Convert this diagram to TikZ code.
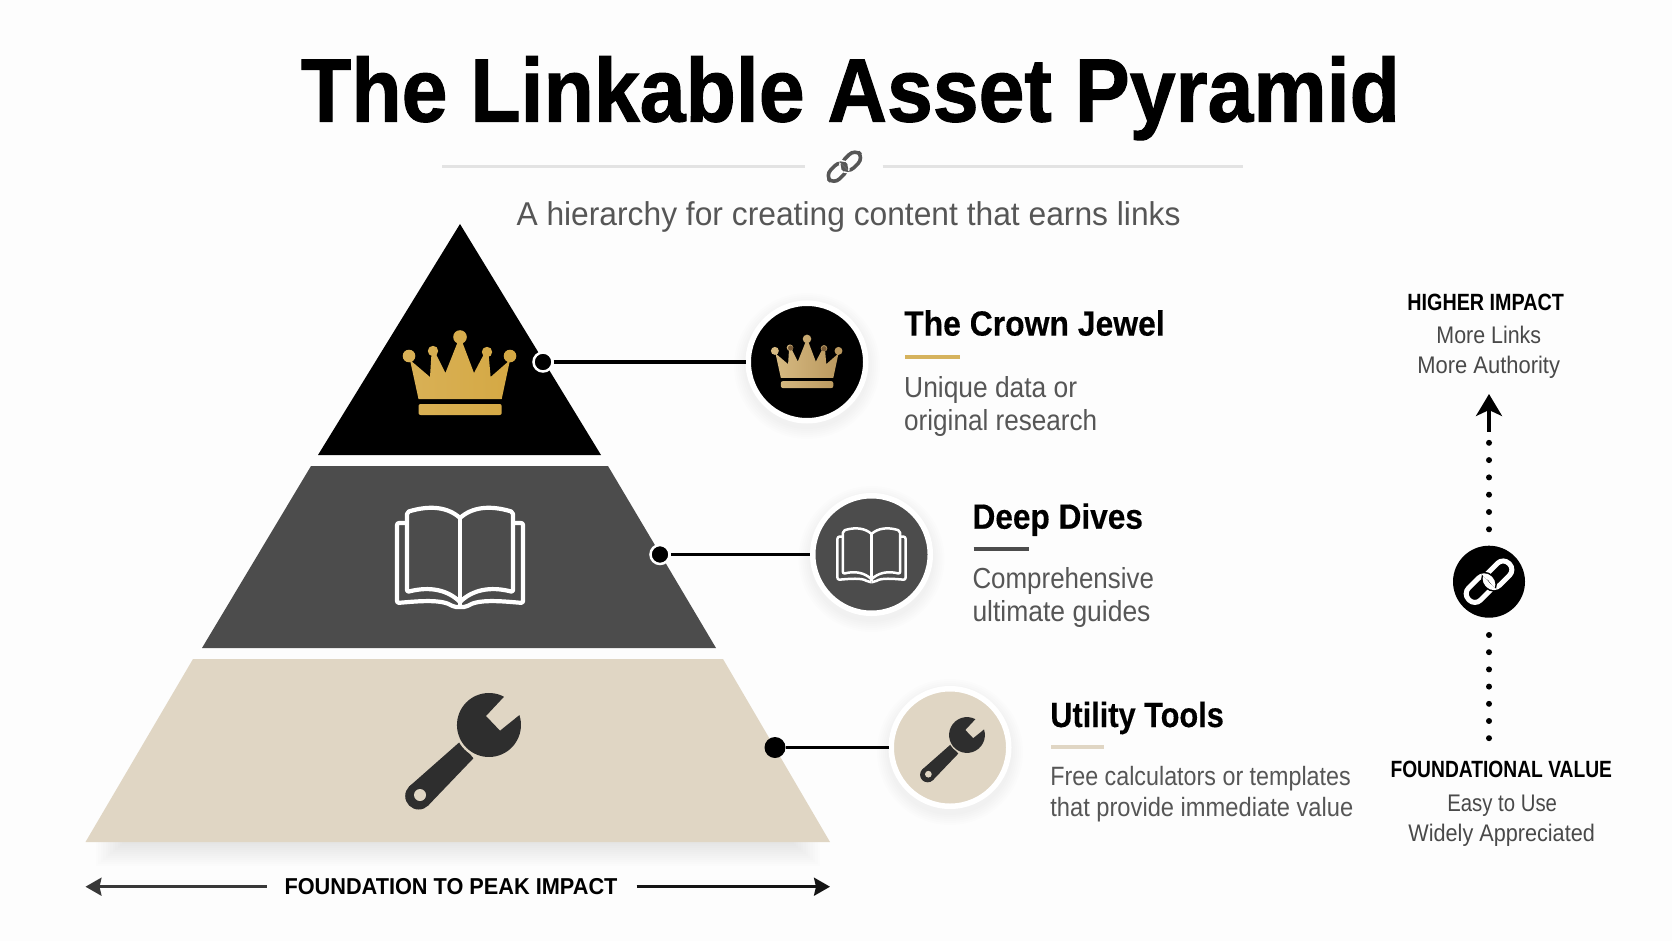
\documentclass[tikz,border=0pt]{standalone}
\usepackage{fontspec}
\usepackage{graphicx}
\usetikzlibrary{arrows.meta,shapes.geometric}
\setmainfont{Liberation Sans}
\newfontfamily\titlefont[FakeBold=1.2]{Liberation Sans Bold}
\newfontfamily\headfont[FakeBold=0.35]{Liberation Sans Bold}
\newcommand\fitw[2]{\resizebox{#1pt}{\height}{#2}}
\definecolor{bgc}{HTML}{FDFDFD}
\definecolor{tierA}{HTML}{000000}
\definecolor{tierB}{HTML}{4C4C4C}
\definecolor{tierC}{HTML}{E0D6C4}
\definecolor{ink}{HTML}{2E2E2E}
\definecolor{bodyc}{HTML}{565656}
\definecolor{goldbar}{HTML}{D6B35E}
\definecolor{goldL}{HTML}{D9B157}
\definecolor{goldM}{HTML}{C99A35}
\definecolor{goldR}{HTML}{D4A843}
\definecolor{paleL}{HTML}{D8BC84}
\definecolor{paleM}{HTML}{C9A869}
\definecolor{paleR}{HTML}{B8965C}
\definecolor{goldDim}{HTML}{7A5C38}
\tikzset{
  txt/.style={inner sep=0pt,outer sep=0pt,anchor=base west},
  hd/.style={txt,text=black,font=\headfont\fontsize{35}{35}\selectfont},
  bd/.style={txt,text=bodyc,font=\fontsize{29}{29}\selectfont},
  bdsm/.style={txt,text=bodyc,font=\fontsize{26.5}{27}\selectfont},
  side/.style={txt,text=bodyc!85!black,font=\fontsize{24}{24}\selectfont},
  sidehd/.style={txt,text=black,font=\bfseries\fontsize{23.5}{24}\selectfont},
  dotc/.style={circle,fill=black,draw=white,line width=2.5pt,minimum size=19pt,inner sep=0pt},
  dotplain/.style={circle,fill=black,minimum size=21pt,inner sep=0pt},
  badge/.style={circle,fill=#1,draw=white,line width=5.5pt,minimum size=117.5pt,inner sep=0pt},
  lead/.style={draw=black,line width=3.2pt},
  bar/.style={line width=4pt},
  pics/crown/.style n args={3}{code={
    \shade[left color=#1,middle color=#2,right color=#3]
      (-41.5,19) -- (-50,-20) -- (-30,-3) -- (-28.5,-27) -- (-24.5,-27) -- (-14.6,-7) -- (-1.5,-40) -- (1.5,-40)
      -- (14,-7) -- (24.5,-27) -- (28.5,-27) -- (30.6,-3) -- (50,-20) -- (41.7,19) -- cycle
      (-51,-24) circle[radius=6.3] (-27,-29) circle[radius=5.2] (0,-43) circle[radius=6.8]
      (27,-28) circle[radius=5.2] (50,-24) circle[radius=6.3]
      [rounded corners=2] (-41.5,24) rectangle (41.7,35);
  }},
  pics/book/.style={code={
    \foreach \sx in {1,-1}{
      \begin{scope}[xscale=\sx]
        \draw[white,line width=#1,rounded corners=2pt,line join=round]
          (0,-39) .. controls (-12,-50) and (-30,-52) .. (-53,-45) -- (-53,35)
          .. controls (-30,29) and (-12,33) .. (0,45);
        \draw[white,line width=#1,rounded corners=2pt,line join=round]
          (-53,-34) -- (-63,-34) -- (-63,46) .. controls (-40,44) and (-18,42) .. (-6,50) -- (0,50);
      \end{scope}}
    \draw[white,line width=#1] (0,-39) -- (0,48);
  }},
  pics/wrench/.style={code={
    \fill[ink] (-29,16.7) -- (-15.6,33.3) -- (-60.8,80.5) -- (-79.8,61.5) -- cycle;
    \fill[ink] (-70.3,71) circle[radius=13.5];
    \fill[#1] (-69,70) circle[radius=6];
    \fill[#1] (0,0) circle[radius=34.5];
    \fill[ink] (30.4,-9.9) arc[start angle=-18,end angle=298,radius=32] -- (-3,-9) -- (11,5.7) -- cycle;
  }},
  pics/chain/.style n args={3}{code={
    \begin{scope}[rotate=45]
      \draw[#1,line width=#3,rounded corners=8pt] (-27,-10) rectangle (3,7);
      \draw[#2,line width=#3+3pt,rounded corners=8pt] (-3,-7) rectangle (27,10);
      \draw[#1,line width=#3,rounded corners=8pt] (-3,-7) rectangle (27,10);
      \begin{scope}
        \clip (0,-15) rectangle (10,12);
        \draw[#2,line width=#3+3pt,rounded corners=8pt] (-27,-10) rectangle (3,7);
        \draw[#1,line width=#3,rounded corners=8pt] (-27,-10) rectangle (3,7);
      \end{scope}
    \end{scope}
  }},
}
\begin{document}
\begin{tikzpicture}[x=1pt,y=-1pt]
\useasboundingbox (0,0) rectangle (1672,941);
\fill[bgc] (0,0) rectangle (1672,941);

% title block
\node[txt,text=black,font=\titlefont\fontsize{90}{90}\selectfont] (title) at (301,121.5) {\fitw{1099}{The Linkable Asset Pyramid}};
\coordinate (ruleLa) at (442,166.7); \coordinate (ruleLb) at (805,166.7);
\coordinate (ruleRa) at (882.6,166.7); \coordinate (ruleRb) at (1243.4,166.7);
\draw[black!11,line width=2.5pt] (ruleLa) -- (ruleLb);
\draw[black!11,line width=2.5pt] (ruleRa) -- (ruleRb);
\pic[scale=.74] at (844.4,166.7) {chain={bodyc}{bgc}{3.6pt}};
\node[txt,text=bodyc,font=\fontsize{33}{33}\selectfont] (subtitle) at (516.5,226) {\fitw{664}{A hierarchy for creating content that earns links}};

% soft shadow of the pyramid base
\foreach \d in {2,4,...,24}{
  \fill[black,opacity=.009] (96+24*1.2-\d*1.2,842) rectangle (820-24*1.2+\d*1.2,842+\d);
}
% pyramid tiers
\fill[tierA] (460,224) -- (601,455) -- (318,455) -- cycle;
\fill[tierB] (311,466) -- (608,466) -- (716,648) -- (202,648) -- cycle;
\fill[tierC] (193,659) -- (723,659) -- (830,842) -- (85.5,842) -- cycle;

% tier icons
\pic at (460,380) {crown={goldL}{goldM}{goldR}};
\pic at (460,557) {book=4.2pt};
\pic at (489,725) {wrench=tierC};

% soft shadows of the badges
\foreach \cx/\cy in {807/366,871.5/559,950/752}{
  \foreach \r in {63,65,...,73}{
    \fill[black,opacity=.008] (\cx,\cy) circle[radius=\r];
  }
}

% badges and leaders
\node[badge=tierA] (badgeA) at (807,362) {};
\node[badge=tierB] (badgeB) at (871.5,554.5) {};
\node[badge=tierC] (badgeC) at (950,747.5) {};
\node[dotc] (dotA) at (543,362) {};
\node[dotc] (dotB) at (660,554.5) {};
\node[dotplain] (dotC) at (775,747.5) {};
\draw[lead] (dotA) -- (badgeA);
\draw[lead] (dotB) -- (badgeB);
\draw[lead] (dotC) -- (badgeC);

\pic[scale=.63] at (807,366) {crown={paleL}{paleM}{paleR}};
\fill[goldDim] (790.6,348) circle[radius=2.6];
\fill[goldDim] (824,348.7) circle[radius=2.6];
\pic[scale=.54] at (871.5,555) {book=2.5pt};
\pic[scale=.56] at (967,735) {wrench=tierC};

% right-hand captions
\node[hd] (capA) at (904.2,335.6) {\fitw{260.5}{The Crown Jewel}};
\coordinate (barAa) at (905,357); \coordinate (barAb) at (959.6,357);
\draw[bar,goldbar] (barAa) -- (barAb);
\node[bd] (capA1) at (904.2,397) {\fitw{173}{Unique data or}};
\node[bd] (capA2) at (904.2,430) {\fitw{193}{original research}};

\node[hd] (capB) at (972.5,528.7) {\fitw{170.5}{Deep Dives}};
\coordinate (barBa) at (973.5,549); \coordinate (barBb) at (1029.4,549);
\draw[bar,tierB] (barBa) -- (barBb);
\node[bd] (capB1) at (972.5,588.5) {\fitw{181.5}{Comprehensive}};
\node[bd] (capB2) at (972.5,621.4) {\fitw{178}{ultimate guides}};

\node[hd] (capC) at (1050.3,727) {\fitw{173.5}{Utility Tools}};
\coordinate (barCa) at (1051.3,746.6); \coordinate (barCb) at (1104.2,746.6);
\draw[bar,tierC] (barCa) -- (barCb);
\node[bdsm] (capC1) at (1050.3,785) {\fitw{300.5}{Free calculators or templates}};
\node[bdsm] (capC2) at (1050.3,816) {\fitw{303}{that provide immediate value}};

% impact axis
\node[sidehd] (hiT) at (1407.4,310.2) {\fitw{156.5}{HIGHER IMPACT}};
\node[side] (hi1) at (1436.4,343) {\fitw{104.7}{More Links}};
\node[side] (hi2) at (1417.4,373) {\fitw{142.6}{More Authority}};
\node[sidehd] (loT) at (1390.5,777) {\fitw{221.5}{FOUNDATIONAL VALUE}};
\node[side] (lo1) at (1447.3,811.4) {\fitw{109.7}{Easy to Use}};
\node[side] (lo2) at (1408.4,841) {\fitw{186.5}{Widely Appreciated}};

\node[circle,fill=black,minimum size=72pt,inner sep=0pt] (hub) at (1489,581.7) {};
\pic at (hub.center) {chain={white}{black}{5pt}};
\coordinate (upTip) at (1489,394); \coordinate (upTail) at (1489,431.7);
\coordinate (dotsUpA) at (1489,529.3); \coordinate (dotsUpB) at (1489,442.2);
\coordinate (dotsDnA) at (1489,635); \coordinate (dotsDnB) at (1489,738.8);
\draw[line width=3.5pt,-{Stealth[length=22pt,width=26pt,inset=6pt]}] (upTail) -- (upTip);
\draw[line width=6pt,line cap=round,dash pattern=on 0pt off 17.3pt] (dotsUpA) -- (dotsUpB);
\draw[line width=6pt,line cap=round,dash pattern=on 0pt off 17.2pt] (dotsDnA) -- (dotsDnB);

% base axis
\node[txt,text=black,font=\bfseries\fontsize{23}{23}\selectfont] (baseL) at (284.5,894.7) {\fitw{333}{FOUNDATION TO PEAK IMPACT}};
\coordinate (axLa) at (266.6,886.7); \coordinate (axLb) at (85.5,886.7);
\coordinate (axRa) at (636.5,886.7); \coordinate (axRb) at (830,886.7);
\draw[black!78,line width=2.6pt,-{Stealth[length=16pt,width=18pt,inset=2pt]}] (axLa) -- (axLb);
\draw[black!92,line width=2.6pt,-{Stealth[length=16pt,width=18pt,inset=2pt]}] (axRa) -- (axRb);
\end{tikzpicture}
\end{document}
